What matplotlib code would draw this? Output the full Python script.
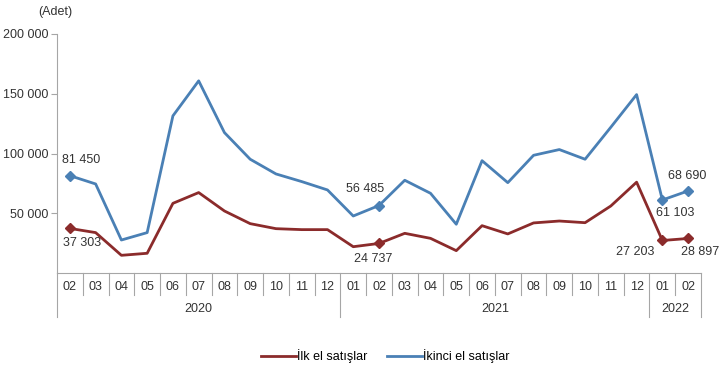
import numpy as np
import matplotlib.pyplot as plt
import matplotlib.transforms as mtransforms

plt.rcParams['font.family'] = ['Liberation Sans', 'DejaVu Sans']

# aylar ve yillar
aylar = ['02', '03', '04', '05', '06', '07', '08', '09', '10', '11', '12',
         '01', '02', '03', '04', '05', '06', '07', '08', '09', '10', '11', '12',
         '01', '02']
yillar = ['2020', '2021', '2022']
yil_uzunluk = [11, 12, 2]

ilk_el = [37303, 33800, 14800, 16500, 58300, 67300, 51900, 41300, 37100, 36300, 36300,
          22000, 24737, 33200, 29000, 18700, 39600, 32700, 41900, 43500, 42100, 56100, 76000,
          27203, 28897]
ikinci_el = [81450, 74500, 27600, 33800, 131500, 160800, 117500, 95200, 82900, 76500, 69500,
             47700, 56485, 77600, 66700, 40800, 94000, 75600, 98500, 103300, 95200, 122000, 149300,
             61103, 68690]

kirmizi = '#8B2B2B'
mavi = '#4A80B5'
gri = '#A6A6A6'
yazi = '#333333'

def fmt(v):
    return f"{v:,}".replace(',', ' ')

fig = plt.figure(figsize=(7.2, 3.86), dpi=100)
ax = fig.add_axes([57/720, 1 - 273/386, 644/720, 239/386])

x = np.arange(len(aylar))
ax.plot(x, ilk_el, color=kirmizi, lw=2.0, label='İlk el satışlar')
ax.plot(x, ikinci_el, color=mavi, lw=2.0, label='İkinci el satışlar')

# isaretli noktalar ve etiketleri (piksel kaydirma)
etiketler = [
    (ikinci_el, 0, 11, 16, mavi),
    (ilk_el, 0, 12, -15, kirmizi),
    (ikinci_el, 12, -14, 17, mavi),
    (ilk_el, 12, -6, -16, kirmizi),
    (ikinci_el, 24, -1, 15, mavi),
    (ikinci_el, 23, 13, -13, mavi),
    (ilk_el, 23, -27, -12, kirmizi),
    (ilk_el, 24, 12, -14, kirmizi),
]
for seri, i, dx, dy, renk in etiketler:
    ax.plot(i, seri[i], 'D', color=renk, ms=5)
    ax.annotate(fmt(seri[i]), (i, seri[i]), xytext=(dx, dy), textcoords='offset pixels',
                ha='center', va='center', fontsize=9, color=yazi)

ax.set_xlim(-0.5, len(aylar) - 0.5)
ax.set_ylim(0, 200000)
yt = [50000, 100000, 150000, 200000]
ax.set_yticks(yt)
ax.set_yticklabels([fmt(v) for v in yt], fontsize=9, color=yazi)
ax.tick_params(axis='y', length=4, color=gri, pad=2)
ax.set_xticks([])
for s in ['top', 'right']:
    ax.spines[s].set_visible(False)
ax.spines['left'].set_color(gri)
ax.spines['bottom'].set_color(gri)

# iki seviyeli x ekseni
tr = mtransforms.blended_transform_factory(ax.transData, ax.transAxes)
for i, a in enumerate(aylar):
    ax.text(i, -0.06, a, transform=tr, ha='center', va='center', fontsize=9, color=yazi)
sinirlar = np.cumsum([0] + yil_uzunluk) - 0.5
for i in range(len(aylar) + 1):
    xs = i - 0.5
    alt = -0.184 if xs in sinirlar else -0.092
    ax.plot([xs, xs], [0, alt], transform=tr, color=gri, lw=0.8, clip_on=False)
for j, y in enumerate(yillar):
    orta = (sinirlar[j] + sinirlar[j + 1]) / 2
    ax.text(orta, -0.152, y, transform=tr, ha='center', va='center', fontsize=9, color=yazi)

fig.text(38/720, 1 - 12/386, '(Adet)', fontsize=9, color=yazi, va='center')

fig.legend(loc='center', bbox_to_anchor=(0.535, 1 - 356/386), ncol=2, frameon=False,
           fontsize=9, handlelength=2.8, handletextpad=0.1, columnspacing=1.5)

fig.savefig('out.png', dpi=100)
